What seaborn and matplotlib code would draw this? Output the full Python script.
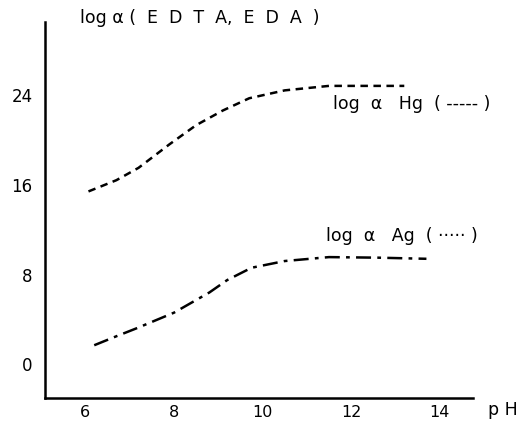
import matplotlib
matplotlib.use("Agg")
import matplotlib.pyplot as plt
import seaborn as sns
import pandas as pd

# Data
ph_hg = [6.07, 6.7, 7.2, 7.9, 8.5, 9.1, 9.7, 10.5, 11.5, 12.5, 13.2]
log_hg = [15.4, 16.4, 17.5, 19.6, 21.3, 22.6, 23.7, 24.4, 24.8, 24.8, 24.8]
ph_ag = [6.2, 6.7, 7.15, 8.0, 8.8, 9.2, 9.75, 10.5, 11.5, 12.6, 13.7]
log_ag = [1.7, 2.5, 3.2, 4.6, 6.4, 7.5, 8.6, 9.2, 9.55, 9.5, 9.4]
x_ticks = [6, 8, 10, 12, 14]
y_ticks = [0, 8, 16, 24]

df = pd.concat([
    pd.DataFrame({"pH": ph_hg, "loga": log_hg, "metal": "Hg"}),
    pd.DataFrame({"pH": ph_ag, "loga": log_ag, "metal": "Ag"}),
])

sns.set_style("white")
plt.rcParams['font.family'] = ['DejaVu Sans']
plt.rcParams['text.color'] = 'black'

fig = plt.figure(figsize=(5.18, 4.25), dpi=100)
ax = fig.add_axes([0.087, 0.0635, 0.826, 0.885])

sns.lineplot(data=df, x="pH", y="loga", hue="metal", style="metal",
             palette={"Hg": "black", "Ag": "black"},
             dashes={"Hg": (3, 2.2), "Ag": (6, 2.5, 1.5, 2.5)},
             linewidth=1.8, legend=False, ax=ax, sort=False)

ax.set_xlim(5.09, 14.75)
ax.set_ylim(-3.0, 30.5)
ax.set_xticks(x_ticks)
ax.set_yticks(y_ticks)
ax.set_xlabel("")
ax.set_ylabel("")
for s in ["top", "right"]:
    ax.spines[s].set_visible(False)
for s in ["left", "bottom"]:
    ax.spines[s].set_linewidth(1.8)
    ax.spines[s].set_color("black")
ax.tick_params(direction="in", length=5, width=1.5, labelsize=12, pad=9,
               colors="black")
ax.tick_params(axis="x", pad=5, labelsize=11.5)

fig.text(0.154, 0.957, "log α (  E  D  T  A,  E  D  A  )", fontsize=12.5,
         va="center", ha="left", color="black")
ax.text(11.6, 23.2, "log  α   Hg  ( ----- )", fontsize=12.5, va="center",
        ha="left", color="black")
ax.text(11.44, 11.4, "log  α   Ag  ( ····· )", fontsize=12.5, va="center",
        ha="left", color="black")
fig.text(0.942, 0.035, "p H", fontsize=12.5, va="center", ha="left",
         color="black")

fig.savefig("out.png", dpi=100)
